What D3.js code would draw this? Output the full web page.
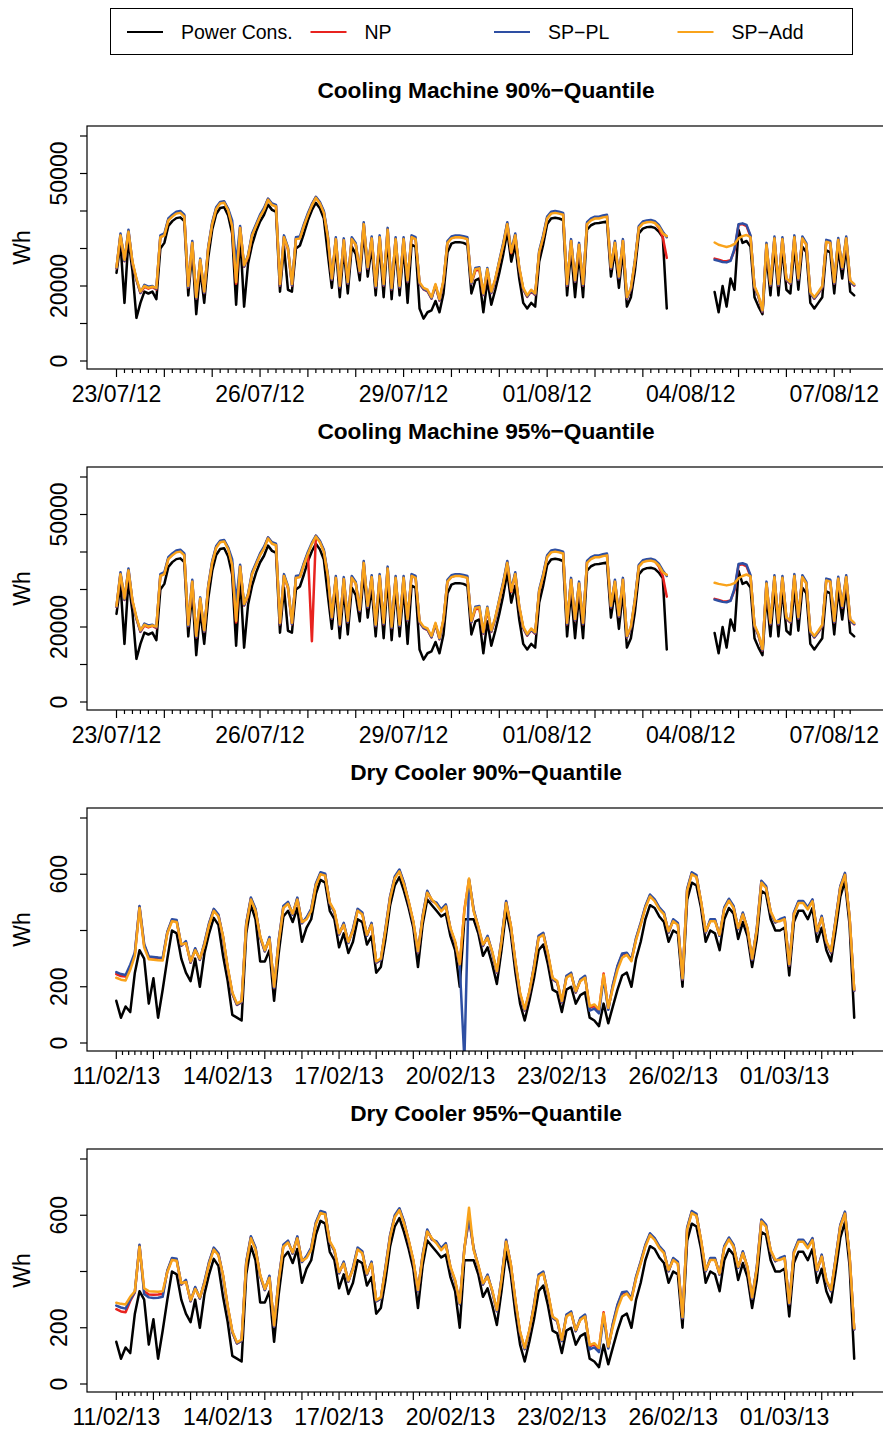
<!DOCTYPE html>
<html><head><meta charset="utf-8">
<script src="https://cdn.jsdelivr.net/npm/d3@7"></script>
<style>body{margin:0;background:#fff}svg text{font-family:"Liberation Sans",Arial,Helvetica,sans-serif;fill:#000}</style>
</head><body><svg id="c" width="883" height="1432"></svg>
<script>
const seriesNames = ["Power Cons.", "NP", "SP\u2212PL", "SP\u2212Add"];
const seriesColors = ["#000000", "#e8231f", "#2e4fa3", "#f9a31b"];
const panelTitles = ["Cooling Machine 90%\u2212Quantile", "Cooling Machine 95%\u2212Quantile", "Dry Cooler 90%\u2212Quantile", "Dry Cooler 95%\u2212Quantile"];
const yAxisTitle = "Wh";
const coolStart = "2012-07-23T00:00:00Z", coolStepHours = 2;
const dryStart = "2013-02-11T00:00:00Z", dryStepHours = 3;
const coolLabelDates = ["2012-07-23", "2012-07-26", "2012-07-29", "2012-08-01", "2012-08-04", "2012-08-07"];
const dryLabelDates = ["2013-02-11", "2013-02-14", "2013-02-17", "2013-02-20", "2013-02-23", "2013-02-26", "2013-03-01"];
const coolYTicks = [0, 10000, 20000, 30000, 40000, 50000, 60000];
const coolYLabels = [0, 20000, 50000];
const dryYTicks = [0, 200, 400, 600, 800];
const dryYLabels = [0, 200, 600];
const N = null;

// Cooling machine, 2-hourly from 23/07/12 (gap on 03/08-04/08)
const coolPower = [
23500,31500,15500,32500,24000,11500,15500,18500,18000,18500,
16500,30000,31500,36000,37300,38100,38300,37300,17500,29500,
12500,24500,15500,27500,35000,39200,40800,41000,38800,34000,
15000,33500,14500,26000,31000,34500,37200,39000,41700,40300,
39800,18500,30500,19000,18500,30000,30800,34000,37500,40200,
42200,40700,38000,28500,19500,30500,17000,30000,18000,30500,
28500,21500,34500,22500,30500,17500,31000,17000,33000,16500,
30500,17500,30500,15500,31000,30500,14000,11300,13000,13500,
16000,13000,18000,29000,31300,31700,31700,31500,31000,18000,
21500,22000,13000,21500,15000,19000,23500,28500,34500,26500,
31000,22000,15500,14000,15500,14500,26500,31000,36500,38000,
38200,38000,37600,17500,29500,17000,28500,17000,35000,36200,
36700,36800,37000,37200,22500,29500,19500,29500,14500,17000,
24000,34000,35300,35700,35800,35500,34500,33000,14000,N,
N,N,N,N,N,N,N,N,N,N,
18400,13000,20000,14500,22000,19000,35000,31500,32000,30500,
17000,14500,12500,28500,17500,30500,17500,30000,19000,18000,
30500,19000,30500,29000,15500,14000,15500,17000,29500,29000,
18000,30000,22000,30500,18500,17500];
const coolNP90 = [
24700,33600,26600,34600,26100,21600,18100,19800,19300,19700,
19100,33100,33600,37700,38700,39500,39700,38700,19600,31600,
16600,26800,18100,30100,36700,40700,42200,42400,40400,36200,
20600,35600,25100,27800,33700,36200,38700,40500,43200,41800,
41400,20100,33100,29800,20100,32600,32800,36200,39100,41700,
43700,42200,39700,33100,21600,32600,19600,32300,20600,32600,
31100,23600,36600,24600,32800,19600,33100,20100,35100,19100,
32600,19600,32600,21100,33100,32600,20600,19100,18600,16600,
20100,16100,21100,31600,32800,33100,33100,32900,32600,20600,
24100,24300,17600,24100,18100,21600,26400,31100,36700,28800,
33600,24600,19100,17100,18600,17600,28900,33100,38200,39500,
39700,39500,39200,20100,32100,21100,31100,20100,36700,37700,
38200,38200,38500,38700,24600,31600,22100,32100,16600,19100,
26300,35700,36900,37200,37300,37000,35500,33000,27500,N,
N,N,N,N,N,N,N,N,N,N,
27300,27000,26700,26600,26900,29500,36300,36500,36000,33200,
19600,17100,13100,31100,20100,32800,20100,32600,21600,20600,
33100,21600,32800,31100,18000,16600,18000,19600,31900,31600,
20600,32400,24600,32800,21100,20100];
const coolSPPL90 = [
24800,34000,26700,35000,26200,21700,18200,20300,19800,20000,
19300,33500,34000,38000,39000,39800,40000,39000,19700,32000,
16700,27300,18200,30400,37000,41000,42400,42600,40600,37500,
26000,36000,25200,28300,34000,36500,39000,40800,43300,42000,
41600,20200,33500,30300,20200,33000,33200,36500,39400,41900,
43800,42400,40000,33500,21700,33000,19700,32700,20700,33000,
31400,23700,37000,24700,33200,19700,33500,20200,35500,19200,
33000,19700,33000,21200,33500,33000,20700,19200,18700,16700,
20200,16200,21200,32000,33200,33500,33500,33300,33000,20700,
24800,25000,17700,24800,18200,21700,26800,31500,37000,29300,
34000,24700,19200,17200,18700,17700,29400,33500,38500,39800,
40000,39800,39500,20200,32500,21200,31500,20200,37000,38000,
38500,38500,38800,39000,24700,32000,22200,32500,16700,19200,
26800,36000,37200,37500,37600,37300,36300,34500,33000,N,
N,N,N,N,N,N,N,N,N,N,
27000,26700,26400,26300,26700,30000,36500,36700,36300,33500,
19700,17200,13200,31500,20200,33200,20200,33000,21700,20700,
33500,21700,33200,31400,18100,16700,18100,19700,32300,32000,
20700,32800,24700,33200,21200,20200];
const coolSPAdd90 = [
25000,33500,27000,34500,26500,22000,18500,20000,19500,19800,
19500,33000,33500,37500,38500,39300,39500,38500,20000,31500,
17000,27000,18500,30000,36500,40500,42000,42200,40200,36000,
21000,35500,25500,28000,33500,36000,38500,40300,43000,41600,
41200,20500,33000,30000,20500,32500,32700,36000,38900,41500,
43500,42000,39500,33000,22000,32500,20000,32200,21000,32500,
31000,24000,36500,25000,32700,20000,33000,20500,35000,19500,
32500,20000,32500,21500,33000,32500,21000,19500,19000,17000,
20500,16500,21500,31500,32700,33000,33000,32800,32500,21000,
24500,24700,18000,24500,18500,22000,26500,31000,36500,29000,
33500,25000,19500,17500,19000,18000,29000,33000,38000,39300,
39500,39300,39000,20500,32000,21500,31000,20500,36500,37500,
38000,38000,38300,38500,25000,31500,22500,32000,17000,19500,
26500,35500,36700,37000,37100,36800,35800,34000,33300,N,
N,N,N,N,N,N,N,N,N,N,
31600,31000,30700,30400,30700,31200,32700,33300,33600,33000,
20000,17500,13500,31000,20500,32700,20500,32500,22000,21000,
33000,22000,32700,31000,18400,17000,18400,20000,31800,31500,
21000,32300,25000,32700,21500,20500];
const coolNP95 = [
25300,34200,27200,35200,26700,22200,18700,20400,19900,20300,
19700,33700,34200,38300,39300,40100,40300,39300,20200,32200,
17200,27400,18700,30700,37300,41300,42800,43000,41000,36800,
21200,36200,25700,28400,34300,36800,39300,41100,43800,42400,
42000,20700,33700,30400,20700,33200,33400,36800,39700,16200,
44300,42800,40300,33700,22200,33200,20200,32900,21200,33200,
31700,24200,37200,25200,33400,20200,33700,20700,35700,19700,
33200,20200,33200,21700,33700,33200,21200,19700,19200,17200,
20700,16700,21700,32200,33400,33700,33700,33500,33200,21200,
24700,24900,18200,24700,18700,22200,27000,31700,37300,29400,
34200,25200,19700,17700,19200,18200,29500,33700,38800,40100,
40300,40100,39800,20700,32700,21700,31700,20700,37300,38300,
38800,38800,39100,39300,25200,32200,22700,32700,17200,19700,
26900,36300,37500,37800,37900,37600,36100,33600,28100,N,
N,N,N,N,N,N,N,N,N,N,
27500,27200,26900,26800,27100,29800,36500,36700,36200,33500,
20200,17700,13700,31700,20700,33400,20700,33200,22200,21200,
33700,22200,33400,31700,18600,17200,18600,20200,32500,32200,
21200,33000,25200,33400,21700,20700];
const coolSPPL95 = [
25400,34600,27300,35600,26800,22300,18800,20900,20400,20600,
19900,34100,34600,38600,39600,40400,40600,39600,20300,32600,
17300,27900,18800,31000,37600,41600,43000,43200,41200,38100,
26600,36600,25800,28900,34600,37100,39600,41400,43900,42600,
42200,20800,34100,30900,20800,33600,33800,37100,40000,42500,
44400,43000,40600,34100,22300,33600,20300,33300,21300,33600,
32000,24300,37600,25300,33800,20300,34100,20800,36100,19800,
33600,20300,33600,21800,34100,33600,21300,19800,19300,17300,
20800,16800,21800,32600,33800,34100,34100,33900,33600,21300,
25400,25600,18300,25400,18800,22300,27400,32100,37600,29900,
34600,25300,19800,17800,19300,18300,30000,34100,39100,40400,
40600,40400,40100,20800,33100,21800,32100,20800,37600,38600,
39100,39100,39400,39600,25300,32600,22800,33100,17300,19800,
27400,36600,37800,38100,38200,37900,36900,35100,33600,N,
N,N,N,N,N,N,N,N,N,N,
27300,27000,26700,26600,27000,30300,36800,37000,36600,33800,
20300,17800,13800,32100,20800,33800,20800,33600,22300,21300,
34100,22300,33800,32000,18700,17300,18700,20300,32900,32600,
21300,33400,25300,33800,21800,20800];
const coolSPAdd95 = [
25600,34100,27600,35100,27100,22600,19100,20600,20100,20400,
20100,33600,34100,38100,39100,39900,40100,39100,20600,32100,
17600,27600,19100,30600,37100,41100,42600,42800,40800,36600,
21600,36100,26100,28600,34100,36600,39100,40900,43600,42200,
41800,21100,33600,30600,21100,33100,33300,36600,39500,42100,
44100,42600,40100,33600,22600,33100,20600,32800,21600,33100,
31600,24600,37100,25600,33300,20600,33600,21100,35600,20100,
33100,20600,33100,22100,33600,33100,21600,20100,19600,17600,
21100,17100,22100,32100,33300,33600,33600,33400,33100,21600,
25100,25300,18600,25100,19100,22600,27100,31600,37100,29600,
34100,25600,20100,18100,19600,18600,29600,33600,38600,39900,
40100,39900,39600,21100,32600,22100,31600,21100,37100,38100,
38600,38600,38900,39100,25600,32100,23100,32600,17600,20100,
27100,36100,37300,37600,37700,37400,36400,34600,33900,N,
N,N,N,N,N,N,N,N,N,N,
31800,31500,31300,31100,31300,31700,33000,33600,34000,33500,
20600,18100,14100,31600,21100,33300,21100,33100,22600,21600,
33600,22600,33300,31600,19000,17600,19000,20600,32400,32100,
21600,32900,25600,33300,22100,21100];

// Dry cooler, 3-hourly from 11/02/13
const dryPower = [
150,90,130,110,250,330,300,140,230,90,
190,300,400,390,300,250,220,300,200,320,
390,445,420,310,220,100,90,80,390,490,
440,290,290,330,150,320,450,470,430,480,
360,410,440,530,580,570,470,440,340,390,
320,360,440,430,350,380,250,270,370,490,
560,590,540,480,410,270,420,510,490,470,
450,460,380,330,200,440,440,440,390,310,
340,280,210,330,470,390,250,140,80,150,
230,330,350,280,190,180,110,190,200,140,
170,180,90,80,60,140,70,130,190,240,
250,200,300,360,440,490,480,450,430,360,
400,390,200,510,570,560,480,360,400,390,
330,440,480,460,370,430,380,270,370,540,
530,440,400,400,410,240,430,470,470,440,
480,360,410,330,290,400,520,575,420,90];
const dryNP90 = [
245,238,236,270,318,484,348,306,304,302,
300,393,437,434,346,359,285,334,295,354,
424,474,454,376,265,175,135,145,424,514,
474,376,326,374,195,364,484,499,456,514,
426,444,474,564,604,599,496,466,386,424,
356,404,474,461,381,424,285,296,404,519,
589,614,567,500,429,321,449,538,506,496,
472,490,405,357,275,474,580,472,411,345,
378,321,250,366,502,416,285,173,115,179,
271,378,389,315,227,215,144,236,247,179,
224,236,125,132,115,247,120,205,272,315,
318,295,371,425,484,525,508,479,461,393,
437,424,225,545,604,594,500,393,437,437,
381,479,510,484,405,461,405,295,404,574,
555,464,429,437,444,275,461,502,502,479,
508,393,449,357,321,437,555,602,446,185];
const drySPPL90 = [
252,245,242,278,322,487,352,308,306,304,
303,396,440,437,346,362,286,337,296,357,
427,477,457,377,266,176,136,146,427,517,
477,376,326,377,196,367,487,502,456,517,
426,447,477,567,607,602,496,466,386,427,
356,407,477,464,381,427,286,296,407,522,
592,617,570,500,429,322,452,541,506,499,
475,493,405,358,276,-60,582,475,411,346,
381,322,251,369,505,416,286,174,116,180,
274,381,392,316,228,216,145,239,250,180,
227,239,115,122,105,230,118,208,275,318,
321,296,374,428,487,528,511,482,464,393,
440,427,226,548,607,597,500,393,440,440,
381,482,513,487,405,464,405,296,407,577,
558,464,429,440,447,276,464,505,505,482,
511,393,452,358,322,440,558,605,446,186];
const drySPAdd90 = [
232,225,222,260,310,480,340,298,296,294,
293,390,433,430,350,355,290,330,300,350,
420,470,450,380,270,180,140,150,420,510,
470,380,330,370,200,360,480,495,460,510,
430,440,470,560,600,595,500,470,390,420,
360,400,470,457,385,420,290,300,400,515,
585,610,563,504,433,326,445,534,510,492,
468,486,409,362,280,470,585,468,415,350,
374,326,255,362,498,420,290,178,120,184,
267,374,385,320,232,220,149,232,243,184,
220,232,130,137,120,243,125,196,260,303,
314,291,367,421,480,521,504,475,457,397,
433,420,230,541,600,590,504,397,433,433,
385,475,506,480,409,457,409,300,400,570,
551,468,433,433,440,280,457,498,498,475,
504,397,445,362,326,433,551,598,450,190];
const dryNP95 = [
266,258,255,295,326,492,330,318,317,318,
320,401,445,442,354,367,294,342,304,362,
432,482,462,384,274,184,144,154,432,522,
482,384,334,382,204,372,492,507,464,522,
434,452,482,572,612,607,504,474,394,432,
364,412,482,469,389,432,294,304,412,527,
597,622,575,508,437,330,457,546,514,504,
480,498,413,366,284,482,590,480,419,354,
386,330,259,374,510,424,294,182,124,188,
279,386,397,324,236,224,153,244,255,188,
232,244,134,141,124,255,129,213,280,323,
326,303,379,433,492,533,516,487,469,401,
445,432,234,553,612,602,508,401,445,445,
389,487,518,492,413,469,413,304,412,582,
563,472,437,445,452,284,469,510,510,487,
516,401,457,366,330,445,563,610,454,194];
const drySPPL95 = [
279,272,268,300,328,495,320,308,306,307,
310,404,448,445,354,370,294,345,304,365,
435,485,465,384,274,184,144,154,435,525,
485,384,334,385,204,375,495,510,464,525,
434,455,485,575,615,610,504,474,394,435,
364,415,485,472,389,435,294,304,415,530,
600,625,578,508,437,330,460,549,514,507,
483,501,413,366,284,482,588,483,419,354,
389,330,259,377,513,424,294,182,124,188,
282,389,400,324,236,224,153,247,258,188,
235,247,123,130,113,238,126,216,283,326,
329,304,382,436,495,536,519,490,472,401,
448,435,234,556,615,605,508,401,448,448,
389,490,521,495,413,472,413,304,415,585,
566,472,437,448,455,284,472,513,513,490,
519,401,460,366,330,448,566,613,454,194];
const drySPAdd95 = [
289,285,283,310,330,488,340,330,329,328,
330,398,441,438,358,363,298,338,308,358,
428,478,458,388,278,188,148,158,428,518,
478,388,338,378,208,368,488,503,468,518,
438,448,478,568,608,603,508,478,398,428,
368,408,478,465,393,428,298,308,408,523,
593,618,571,512,441,334,453,542,518,500,
476,494,417,370,288,478,627,476,423,358,
382,334,263,370,506,428,298,186,128,192,
275,382,393,328,240,228,157,240,251,192,
228,240,138,145,128,251,133,204,268,311,
322,299,375,429,488,529,512,483,465,405,
441,428,238,549,608,598,512,405,441,441,
393,483,514,488,417,465,417,308,408,578,
559,476,441,441,448,288,465,506,506,483,
512,405,453,370,334,441,559,606,458,198];

const panels = [
  {title: panelTitles[0], start: coolStart, step: coolStepHours, labels: coolLabelDates, xr: [116.5, 834.25], yMax: 60000, yTicks: coolYTicks, yLabels: coolYLabels, series: [coolPower, coolNP90, coolSPPL90, coolSPAdd90]},
  {title: panelTitles[1], start: coolStart, step: coolStepHours, labels: coolLabelDates, xr: [116.5, 834.25], yMax: 60000, yTicks: coolYTicks, yLabels: coolYLabels, series: [coolPower, coolNP95, coolSPPL95, coolSPAdd95]},
  {title: panelTitles[2], start: dryStart, step: dryStepHours, labels: dryLabelDates, xr: [116.3, 784.6], yMax: 800, yTicks: dryYTicks, yLabels: dryYLabels, series: [dryPower, dryNP90, drySPPL90, drySPAdd90]},
  {title: panelTitles[3], start: dryStart, step: dryStepHours, labels: dryLabelDates, xr: [116.3, 784.6], yMax: 800, yTicks: dryYTicks, yLabels: dryYLabels, series: [dryPower, dryNP95, drySPPL95, drySPAdd95]}
];

const svg = d3.select("#c");
const fmt = d3.utcFormat("%d/%m/%y");
const left = 87, right = 884, panelH = 341, axisFont = 23;

// Legend
const lg = svg.append("g");
lg.append("rect").attr("x", 110.5).attr("y", 8.5).attr("width", 742).attr("height", 46)
  .attr("fill", "none").attr("stroke", "#000").attr("stroke-width", 1);
const legX = d3.scaleLinear().domain([0, 1]).range([127, 310.5]);
seriesNames.forEach((nm, i) => {
  const x0 = legX(i);
  lg.append("line").attr("x1", x0).attr("x2", x0 + 36).attr("y1", 32).attr("y2", 32)
    .attr("stroke", seriesColors[i]).attr("stroke-width", 2);
  lg.append("text").attr("x", x0 + 54).attr("y", 39).attr("font-size", 19.5).text(nm);
});

panels.forEach((p, k) => {
  const top = 126 + k * panelH, bottom = 369 + k * panelH;
  const g = svg.append("g");
  const t0 = new Date(p.start);
  const dates = p.series[0].map((_, i) => new Date(t0.getTime() + i * p.step * 3600e3));
  const x = d3.scaleUtc().domain([new Date(p.labels[0] + "T00:00:00Z"), new Date(p.labels[p.labels.length - 1] + "T00:00:00Z")]).range(p.xr);
  const y = d3.scaleLinear().domain([0, p.yMax]).range([bottom - 8, top + 10]);

  g.append("text").attr("x", 486).attr("y", top - 28).attr("text-anchor", "middle")
    .attr("font-size", 22.7).attr("font-weight", "bold").text(p.title);

  const cid = "clip" + k;
  svg.append("clipPath").attr("id", cid).append("rect")
    .attr("x", left).attr("y", top).attr("width", right - left).attr("height", bottom - top);

  const line = d3.line().defined(d => d[1] != null).x(d => x(d[0])).y(d => y(d[1]));
  const lines = g.append("g").attr("clip-path", `url(#${cid})`);
  p.series.forEach((vals, si) => {
    lines.append("path").datum(vals.map((v, i) => [dates[i], v]))
      .attr("d", line).attr("fill", "none").attr("stroke", seriesColors[si])
      .attr("stroke-width", 2.5).attr("stroke-linejoin", "round").attr("stroke-linecap", "round");
  });

  g.append("rect").attr("x", left).attr("y", top).attr("width", right - left).attr("height", bottom - top)
    .attr("fill", "none").attr("stroke", "#000").attr("stroke-width", 1.2);

  p.yTicks.forEach(v => {
    g.append("line").attr("x1", 80).attr("x2", left).attr("y1", y(v)).attr("y2", y(v))
      .attr("stroke", "#000").attr("stroke-width", 1.2);
  });
  p.yLabels.forEach(v => {
    g.append("text").attr("transform", `translate(67,${y(v)}) rotate(-90)`)
      .attr("text-anchor", "middle").attr("font-size", axisFont).text(v);
  });
  g.append("text").attr("transform", `translate(30,${(top + bottom) / 2}) rotate(-90)`)
    .attr("text-anchor", "middle").attr("font-size", axisFont).text(yAxisTitle);

  const lastDate = dates[dates.length - 1];
  const ticks = d3.utcHour.every(4).range(dates[0], new Date(lastDate.getTime() + 1));
  ticks.forEach(t => {
    const major = t.getUTCHours() === 0;
    g.append("line").attr("x1", x(t)).attr("x2", x(t)).attr("y1", bottom).attr("y2", bottom + (major ? 8 : 4))
      .attr("stroke", "#000").attr("stroke-width", 1.2);
  });
  p.labels.forEach(s => {
    const d = new Date(s + "T00:00:00Z");
    g.append("text").attr("x", x(d)).attr("y", bottom + 33).attr("text-anchor", "middle")
      .attr("font-size", axisFont).text(fmt(d));
  });
});
</script></body></html>
